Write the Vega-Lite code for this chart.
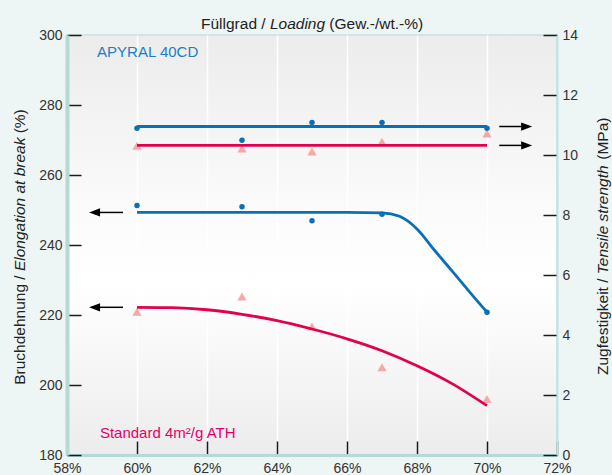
{
  "$schema": "https://vega.github.io/schema/vega-lite/v6.json",
  "width": 490,
  "height": 420,
  "autosize": {"type": "none"},
  "padding": {"left": 67, "top": 35, "right": 55, "bottom": 20},
  "background": "#eef5f5",
  "config": {
    "font": "Liberation Sans",
    "view": {
      "fill": {"gradient": "linear", "x1": 0, "y1": 0, "x2": 0, "y2": 1, "stops": [
        {"offset": 0, "color": "#ececec"},
        {"offset": 0.45, "color": "#fcfcfc"},
        {"offset": 0.6, "color": "#ffffff"},
        {"offset": 1, "color": "#ececec"}
      ]},
      "stroke": "#c3e2e0",
      "strokeWidth": 1.5
    }
  },
  "datasets": {
    "elong_curves": [
      {"series": "APYRAL 40CD", "loading": 60, "value": 249.3},
      {"series": "APYRAL 40CD", "loading": 62, "value": 249.3},
      {"series": "APYRAL 40CD", "loading": 64, "value": 249.3},
      {"series": "APYRAL 40CD", "loading": 66, "value": 249.3},
      {"series": "APYRAL 40CD", "loading": 67, "value": 249.2},
      {"series": "APYRAL 40CD", "loading": 67.5, "value": 248.2},
      {"series": "APYRAL 40CD", "loading": 68, "value": 244.6},
      {"series": "APYRAL 40CD", "loading": 68.5, "value": 238.5},
      {"series": "APYRAL 40CD", "loading": 69, "value": 232.6},
      {"series": "APYRAL 40CD", "loading": 69.5, "value": 226.6},
      {"series": "APYRAL 40CD", "loading": 70, "value": 220.8},
      {"series": "Standard", "loading": 60, "value": 222.2},
      {"series": "Standard", "loading": 61, "value": 222.1},
      {"series": "Standard", "loading": 62, "value": 221.5},
      {"series": "Standard", "loading": 63, "value": 220.2},
      {"series": "Standard", "loading": 64, "value": 218.4},
      {"series": "Standard", "loading": 65, "value": 216.0},
      {"series": "Standard", "loading": 66, "value": 213.2},
      {"series": "Standard", "loading": 67, "value": 209.8},
      {"series": "Standard", "loading": 68, "value": 205.5},
      {"series": "Standard", "loading": 69, "value": 200.4},
      {"series": "Standard", "loading": 70, "value": 194.1}
    ],
    "elong_points": [
      {"series": "APYRAL 40CD", "loading": 60, "value": 251.3},
      {"series": "APYRAL 40CD", "loading": 63, "value": 250.9},
      {"series": "APYRAL 40CD", "loading": 65, "value": 246.9},
      {"series": "APYRAL 40CD", "loading": 67, "value": 248.8},
      {"series": "APYRAL 40CD", "loading": 70, "value": 220.8},
      {"series": "Standard", "loading": 60, "value": 220.9},
      {"series": "Standard", "loading": 63, "value": 225.3},
      {"series": "Standard", "loading": 65, "value": 216.7},
      {"series": "Standard", "loading": 67, "value": 205.1},
      {"series": "Standard", "loading": 70, "value": 196.0}
    ],
    "tensile_curves": [
      {"series": "APYRAL 40CD", "loading": 60, "value": 10.95},
      {"series": "APYRAL 40CD", "loading": 70, "value": 10.95},
      {"series": "Standard", "loading": 60, "value": 10.32},
      {"series": "Standard", "loading": 70, "value": 10.32}
    ],
    "tensile_points": [
      {"series": "APYRAL 40CD", "loading": 60, "value": 10.89},
      {"series": "APYRAL 40CD", "loading": 63, "value": 10.49},
      {"series": "APYRAL 40CD", "loading": 65, "value": 11.08},
      {"series": "APYRAL 40CD", "loading": 67, "value": 11.08},
      {"series": "APYRAL 40CD", "loading": 70, "value": 10.89},
      {"series": "Standard", "loading": 60, "value": 10.31},
      {"series": "Standard", "loading": 63, "value": 10.22},
      {"series": "Standard", "loading": 65, "value": 10.12},
      {"series": "Standard", "loading": 67, "value": 10.44},
      {"series": "Standard", "loading": 70, "value": 10.72}
    ],
    "elong_arrows": [
      {"series": "APYRAL 40CD", "level": 249.3},
      {"series": "Standard", "level": 222.2}
    ],
    "tensile_arrows": [
      {"series": "APYRAL 40CD", "level": 10.95},
      {"series": "Standard", "level": 10.32}
    ],
    "one": [{}]
  },
  "layer": [
    {
      "layer": [
        {
          "data": {"name": "elong_points"},
          "transform": [{"filter": "datum.series == 'Standard'"}],
          "mark": {"type": "point", "shape": "triangle-up", "filled": true, "size": 85, "color": "#f5a8a6", "opacity": 1},
          "encoding": {
            "x": {"field": "loading", "type": "quantitative", "scale": {"domain": [58, 72], "nice": false, "zero": false}, "axis": {"title": null}},
            "y": {"field": "value", "type": "quantitative", "scale": {"domain": [180, 300], "nice": false, "zero": false}, "axis": {"title": null}}
          }
        },
        {
          "data": {"name": "elong_curves"},
          "mark": {"type": "line", "interpolate": "monotone", "strokeWidth": 2.8},
          "encoding": {
            "x": {
              "field": "loading",
              "type": "quantitative",
              "scale": {"domain": [58, 72], "nice": false, "zero": false},
              "axis": {
                "orient": "bottom",
                "title": null,
                "values": [58, 60, 62, 64, 66, 68, 70, 72],
                "labelExpr": "datum.value + '%'",
                "tickSize": -14,
                "tickWidth": 1.5,
                "tickColor": "#1a1a1a",
                "domainColor": "#b3dad7",
                "domainWidth": 3,
                "grid": true,
                "gridColor": {"condition": {"test": "datum.value == 58 || datum.value == 72", "value": "transparent"}, "value": "#ffffff"},
                "gridWidth": 1.5,
                "labelFontSize": 14,
                "labelColor": "#333333",
                "labelPadding": 20,
                "labelFlush": false,
                "labelOverlap": false
              }
            },
            "y": {
              "field": "value",
              "type": "quantitative",
              "scale": {"domain": [180, 300], "nice": false, "zero": false},
              "axis": {
                "orient": "left",
                "title": null,
                "values": [180, 200, 220, 240, 260, 280, 300],
                "tickSize": -14,
                "tickWidth": 1.5,
                "tickColor": "#1a1a1a",
                "domainColor": "#b3dad7",
                "domainWidth": 4,
                "grid": false,
                "labelFontSize": 14,
                "labelColor": "#333333",
                "labelPadding": 19,
                "labelOverlap": false
              }
            },
            "color": {"field": "series", "type": "nominal", "scale": {"domain": ["APYRAL 40CD", "Standard"], "range": ["#0b6fb5", "#e2004f"]}, "legend": null}
          }
        },
        {
          "data": {"name": "elong_points"},
          "transform": [{"filter": "datum.series == 'APYRAL 40CD'"}],
          "mark": {"type": "point", "shape": "circle", "filled": true, "size": 30, "color": "#0b6fb5", "opacity": 1},
          "encoding": {
            "x": {"field": "loading", "type": "quantitative", "scale": {"domain": [58, 72], "nice": false, "zero": false}, "axis": {"title": null}},
            "y": {"field": "value", "type": "quantitative", "scale": {"domain": [180, 300], "nice": false, "zero": false}, "axis": {"title": null}}
          }
        },
        {
          "data": {"name": "elong_arrows"},
          "mark": {"type": "rule", "strokeWidth": 1.5, "color": "#000000"},
          "encoding": {
            "x": {"datum": 58.8, "type": "quantitative", "scale": {"domain": [58, 72], "nice": false, "zero": false}, "axis": {"title": null}},
            "x2": {"datum": 59.6},
            "y": {"field": "level", "type": "quantitative", "scale": {"domain": [180, 300], "nice": false, "zero": false}, "axis": {"title": null}}
          }
        },
        {
          "data": {"name": "elong_arrows"},
          "mark": {"type": "point", "shape": "M 0 0 L 2 -0.75 L 2 0.75 Z", "filled": true, "size": 121, "color": "#000000", "opacity": 1},
          "encoding": {
            "x": {"datum": 58.63, "type": "quantitative", "scale": {"domain": [58, 72], "nice": false, "zero": false}, "axis": {"title": null}},
            "y": {"field": "level", "type": "quantitative", "scale": {"domain": [180, 300], "nice": false, "zero": false}, "axis": {"title": null}}
          }
        },
        {
          "data": {"name": "one"},
          "mark": {"type": "text", "align": "left", "baseline": "middle", "fontSize": 15, "color": "#1b7ec6", "text": "APYRAL 40CD"},
          "encoding": {
            "x": {"datum": 58.86, "type": "quantitative", "scale": {"domain": [58, 72], "nice": false, "zero": false}, "axis": {"title": null}},
            "y": {"datum": 295.1, "type": "quantitative", "scale": {"domain": [180, 300], "nice": false, "zero": false}, "axis": {"title": null}}
          }
        },
        {
          "data": {"name": "one"},
          "mark": {"type": "text", "align": "left", "baseline": "middle", "fontSize": 15, "color": "#e4006b", "text": "Standard 4m²/g ATH"},
          "encoding": {
            "x": {"datum": 58.94, "type": "quantitative", "scale": {"domain": [58, 72], "nice": false, "zero": false}, "axis": {"title": null}},
            "y": {"datum": 186.3, "type": "quantitative", "scale": {"domain": [180, 300], "nice": false, "zero": false}, "axis": {"title": null}}
          }
        },
        {
          "data": {"name": "one"},
          "mark": {"type": "text", "align": "left", "baseline": "middle", "fontSize": 15.5, "color": "#222222", "text": "Füllgrad /"},
          "encoding": {
            "x": {"datum": 61.829, "type": "quantitative", "scale": {"domain": [58, 72], "nice": false, "zero": false}, "axis": {"title": null}},
            "y": {"datum": 303.14, "type": "quantitative", "scale": {"domain": [180, 300], "nice": false, "zero": false}, "axis": {"title": null}}
          }
        },
        {
          "data": {"name": "one"},
          "mark": {"type": "text", "align": "left", "baseline": "middle", "fontSize": 15.5, "fontStyle": "italic", "color": "#222222", "text": "Loading"},
          "encoding": {
            "x": {"datum": 63.797, "type": "quantitative", "scale": {"domain": [58, 72], "nice": false, "zero": false}, "axis": {"title": null}},
            "y": {"datum": 303.14, "type": "quantitative", "scale": {"domain": [180, 300], "nice": false, "zero": false}, "axis": {"title": null}}
          }
        },
        {
          "data": {"name": "one"},
          "mark": {"type": "text", "align": "left", "baseline": "middle", "fontSize": 15.5, "color": "#222222", "text": "(Gew.-/wt.-%)"},
          "encoding": {
            "x": {"datum": 65.494, "type": "quantitative", "scale": {"domain": [58, 72], "nice": false, "zero": false}, "axis": {"title": null}},
            "y": {"datum": 303.14, "type": "quantitative", "scale": {"domain": [180, 300], "nice": false, "zero": false}, "axis": {"title": null}}
          }
        },
        {
          "data": {"name": "one"},
          "mark": {"type": "text", "align": "left", "baseline": "middle", "angle": 270, "fontSize": 15.5, "color": "#222222", "text": "Bruchdehnung /"},
          "encoding": {
            "x": {"datum": 56.657, "type": "quantitative", "scale": {"domain": [58, 72], "nice": false, "zero": false}, "axis": {"title": null}},
            "y": {"datum": 200.06, "type": "quantitative", "scale": {"domain": [180, 300], "nice": false, "zero": false}, "axis": {"title": null}}
          }
        },
        {
          "data": {"name": "one"},
          "mark": {"type": "text", "align": "left", "baseline": "middle", "angle": 270, "fontSize": 15.5, "fontStyle": "italic", "color": "#222222", "text": "Elongation at break"},
          "encoding": {
            "x": {"datum": 56.657, "type": "quantitative", "scale": {"domain": [58, 72], "nice": false, "zero": false}, "axis": {"title": null}},
            "y": {"datum": 232.54, "type": "quantitative", "scale": {"domain": [180, 300], "nice": false, "zero": false}, "axis": {"title": null}}
          }
        },
        {
          "data": {"name": "one"},
          "mark": {"type": "text", "align": "left", "baseline": "middle", "angle": 270, "fontSize": 15.5, "color": "#222222", "text": "(%)"},
          "encoding": {
            "x": {"datum": 56.657, "type": "quantitative", "scale": {"domain": [58, 72], "nice": false, "zero": false}, "axis": {"title": null}},
            "y": {"datum": 271.9, "type": "quantitative", "scale": {"domain": [180, 300], "nice": false, "zero": false}, "axis": {"title": null}}
          }
        }
      ]
    },
    {
      "layer": [
        {
          "data": {"name": "tensile_points"},
          "transform": [{"filter": "datum.series == 'Standard'"}],
          "mark": {"type": "point", "shape": "triangle-up", "filled": true, "size": 85, "color": "#f5a8a6", "opacity": 1},
          "encoding": {
            "x": {"field": "loading", "type": "quantitative", "scale": {"domain": [58, 72], "nice": false, "zero": false}, "axis": {"title": null}},
            "y": {"field": "value", "type": "quantitative", "scale": {"domain": [0, 14], "nice": false, "zero": false}, "axis": {"title": null, "orient": "right"}}
          }
        },
        {
          "data": {"name": "tensile_curves"},
          "mark": {"type": "line", "strokeWidth": 2.8},
          "encoding": {
            "x": {"field": "loading", "type": "quantitative", "scale": {"domain": [58, 72], "nice": false, "zero": false}, "axis": {"title": null}},
            "y": {
              "field": "value",
              "type": "quantitative",
              "scale": {"domain": [0, 14], "nice": false, "zero": false},
              "axis": {
                "orient": "right",
                "title": null,
                "values": [0, 2, 4, 6, 8, 10, 12, 14],
                "tickSize": -14,
                "tickWidth": 1.5,
                "tickColor": "#1a1a1a",
                "domainColor": "#c3e2e0",
                "domainWidth": 2,
                "grid": false,
                "labelFontSize": 14,
                "labelColor": "#333333",
                "labelPadding": 19,
                "labelOverlap": false
              }
            },
            "color": {"field": "series", "type": "nominal", "scale": {"domain": ["APYRAL 40CD", "Standard"], "range": ["#0b6fb5", "#e2004f"]}, "legend": null}
          }
        },
        {
          "data": {"name": "tensile_points"},
          "transform": [{"filter": "datum.series == 'APYRAL 40CD'"}],
          "mark": {"type": "point", "shape": "circle", "filled": true, "size": 30, "color": "#0b6fb5", "opacity": 1},
          "encoding": {
            "x": {"field": "loading", "type": "quantitative", "scale": {"domain": [58, 72], "nice": false, "zero": false}, "axis": {"title": null}},
            "y": {"field": "value", "type": "quantitative", "scale": {"domain": [0, 14], "nice": false, "zero": false}, "axis": {"title": null, "orient": "right"}}
          }
        },
        {
          "data": {"name": "tensile_arrows"},
          "mark": {"type": "rule", "strokeWidth": 1.5, "color": "#000000"},
          "encoding": {
            "x": {"datum": 70.35, "type": "quantitative", "scale": {"domain": [58, 72], "nice": false, "zero": false}, "axis": {"title": null}},
            "x2": {"datum": 71.1},
            "y": {"field": "level", "type": "quantitative", "scale": {"domain": [0, 14], "nice": false, "zero": false}, "axis": {"title": null, "orient": "right"}}
          }
        },
        {
          "data": {"name": "tensile_arrows"},
          "mark": {"type": "point", "shape": "M 0 0 L -2 -0.75 L -2 0.75 Z", "filled": true, "size": 121, "color": "#000000", "opacity": 1},
          "encoding": {
            "x": {"datum": 71.29, "type": "quantitative", "scale": {"domain": [58, 72], "nice": false, "zero": false}, "axis": {"title": null}},
            "y": {"field": "level", "type": "quantitative", "scale": {"domain": [0, 14], "nice": false, "zero": false}, "axis": {"title": null, "orient": "right"}}
          }
        },
        {
          "data": {"name": "one"},
          "mark": {"type": "text", "align": "left", "baseline": "middle", "angle": 270, "fontSize": 15.5, "color": "#222222", "text": "Zugfestigkeit /"},
          "encoding": {
            "x": {"datum": 73.314, "type": "quantitative", "scale": {"domain": [58, 72], "nice": false, "zero": false}, "axis": {"title": null}},
            "y": {"datum": 2.667, "type": "quantitative", "scale": {"domain": [0, 14], "nice": false, "zero": false}, "axis": {"title": null, "orient": "right"}}
          }
        },
        {
          "data": {"name": "one"},
          "mark": {"type": "text", "align": "left", "baseline": "middle", "angle": 270, "fontSize": 15.5, "fontStyle": "italic", "color": "#222222", "text": "Tensile strength"},
          "encoding": {
            "x": {"datum": 73.314, "type": "quantitative", "scale": {"domain": [58, 72], "nice": false, "zero": false}, "axis": {"title": null}},
            "y": {"datum": 6.025, "type": "quantitative", "scale": {"domain": [0, 14], "nice": false, "zero": false}, "axis": {"title": null, "orient": "right"}}
          }
        },
        {
          "data": {"name": "one"},
          "mark": {"type": "text", "align": "left", "baseline": "middle", "angle": 270, "fontSize": 15.5, "color": "#222222", "text": "(MPa)"},
          "encoding": {
            "x": {"datum": 73.314, "type": "quantitative", "scale": {"domain": [58, 72], "nice": false, "zero": false}, "axis": {"title": null}},
            "y": {"datum": 9.842, "type": "quantitative", "scale": {"domain": [0, 14], "nice": false, "zero": false}, "axis": {"title": null, "orient": "right"}}
          }
        }
      ]
    }
  ],
  "resolve": {"scale": {"y": "independent"}}
}
